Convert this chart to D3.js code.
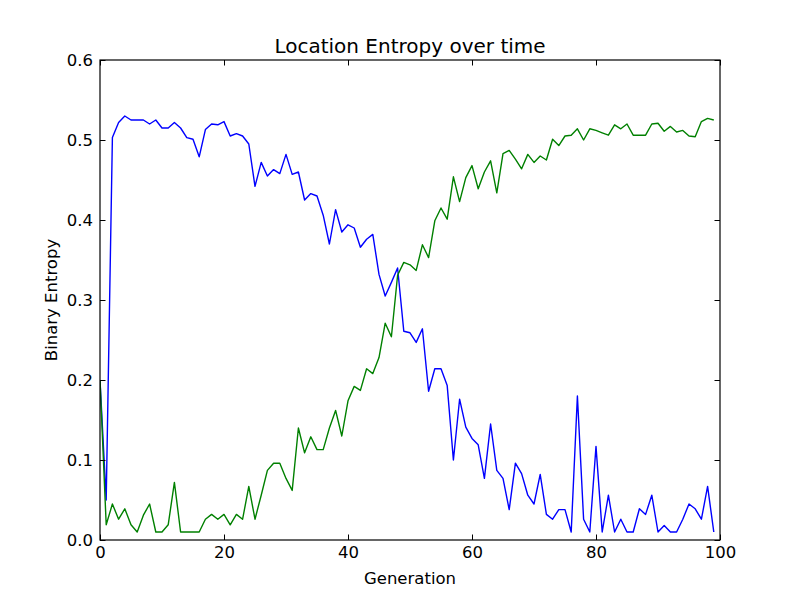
<!DOCTYPE html>
<html>
<head>
<meta charset="utf-8">
<script src="https://cdn.jsdelivr.net/npm/d3@7"></script>
<style>
  body { margin: 0; background: #fff; }
  svg { display: block; font-family: "DejaVu Sans", sans-serif; }
</style>
</head>
<body>
<div id="chart"></div>
<script>
// entropy per generation
var blueVals = [0.200, 0.050, 0.503, 0.522, 0.530, 0.525, 0.525, 0.525, 0.520, 0.525,
  0.515, 0.515, 0.522, 0.515, 0.503, 0.501, 0.479, 0.513, 0.520, 0.519,
  0.523, 0.505, 0.508, 0.505, 0.495, 0.442, 0.472, 0.455, 0.463, 0.458,
  0.482, 0.457, 0.460, 0.425, 0.433, 0.430, 0.406, 0.370, 0.413, 0.385,
  0.394, 0.390, 0.366, 0.376, 0.382, 0.332, 0.305, 0.322, 0.340, 0.261,
  0.259, 0.247, 0.264, 0.186, 0.214, 0.214, 0.193, 0.100, 0.176, 0.141,
  0.127, 0.119, 0.077, 0.145, 0.087, 0.077, 0.038, 0.096, 0.083, 0.056,
  0.045, 0.082, 0.032, 0.026, 0.038, 0.038, 0.010, 0.180, 0.026, 0.010,
  0.117, 0.010, 0.056, 0.010, 0.026, 0.010, 0.010, 0.039, 0.032, 0.056,
  0.010, 0.018, 0.010, 0.010, 0.026, 0.045, 0.039, 0.026, 0.067, 0.010];

var greenVals = [0.200, 0.019, 0.045, 0.026, 0.039, 0.019, 0.010, 0.031, 0.045, 0.010,
  0.010, 0.019, 0.072, 0.010, 0.010, 0.010, 0.010, 0.026, 0.032, 0.026,
  0.032, 0.019, 0.032, 0.026, 0.067, 0.026, 0.056, 0.087, 0.096, 0.096,
  0.077, 0.062, 0.140, 0.109, 0.129, 0.113, 0.113, 0.140, 0.162, 0.130,
  0.174, 0.192, 0.187, 0.214, 0.208, 0.228, 0.271, 0.254, 0.331, 0.347,
  0.344, 0.337, 0.369, 0.353, 0.399, 0.415, 0.401, 0.454, 0.423, 0.453,
  0.468, 0.439, 0.460, 0.474, 0.434, 0.483, 0.487, 0.476, 0.464, 0.482,
  0.472, 0.480, 0.475, 0.501, 0.493, 0.505, 0.506, 0.514, 0.500, 0.514,
  0.512, 0.509, 0.506, 0.519, 0.514, 0.520, 0.506, 0.506, 0.506, 0.520,
  0.521, 0.511, 0.517, 0.510, 0.512, 0.505, 0.504, 0.523, 0.527, 0.525];

var xTicks = [0, 20, 40, 60, 80, 100];
var yTicks = [0.0, 0.1, 0.2, 0.3, 0.4, 0.5, 0.6];

var W = 800, H = 600;
var mLeft = 100, mRight = 720, mTop = 60, mBottom = 540;

var svg = d3.select("#chart").append("svg")
  .attr("width", W).attr("height", H);

var x = d3.scaleLinear().domain([0, 100]).range([mLeft, mRight]);
var y = d3.scaleLinear().domain([0, 0.6]).range([mBottom, mTop]);

// clip lines to the axes box
svg.append("clipPath").attr("id", "box")
  .append("rect").attr("x", mLeft).attr("y", mTop)
  .attr("width", mRight - mLeft).attr("height", mBottom - mTop);

var line = d3.line()
  .x(function(d, i) { return x(i); })
  .y(function(d) { return y(d); });

var series = [{vals: blueVals, col: "#0000ff"}, {vals: greenVals, col: "#008000"}];
svg.append("g").attr("clip-path", "url(#box)")
  .selectAll("path").data(series).enter().append("path")
  .attr("d", function(d) { return line(d.vals); })
  .attr("fill", "none")
  .attr("stroke", function(d) { return d.col; })
  .attr("stroke-width", 1.4)
  .attr("stroke-linejoin", "round");

// axes, ticks inside on all four sides like old matplotlib
var tl = 5.5;
var fmtY = d3.format(".1f");

var gB = svg.append("g").attr("transform", "translate(0," + mBottom + ")")
  .call(d3.axisBottom(x).tickValues(xTicks).tickSizeInner(-tl).tickSizeOuter(0).tickPadding(6));
var gT = svg.append("g").attr("transform", "translate(0," + mTop + ")")
  .call(d3.axisTop(x).tickValues(xTicks).tickSizeInner(-tl).tickSizeOuter(0).tickFormat(""));
var gL = svg.append("g").attr("transform", "translate(" + mLeft + ",0)")
  .call(d3.axisLeft(y).tickValues(yTicks).tickFormat(fmtY).tickSizeInner(-tl).tickSizeOuter(0).tickPadding(7));
var gR = svg.append("g").attr("transform", "translate(" + mRight + ",0)")
  .call(d3.axisRight(y).tickValues(yTicks).tickSizeInner(-tl).tickSizeOuter(0).tickFormat(""));

[gB, gT, gL, gR].forEach(function(g) {
  g.select(".domain").remove();
  g.selectAll("line").attr("stroke", "#000").attr("stroke-width", 1);
  g.selectAll("text").attr("fill", "#000").style("font-size", "16.5px")
    .style("font-family", "'DejaVu Sans', sans-serif");
});

svg.append("rect")
  .attr("x", mLeft).attr("y", mTop)
  .attr("width", mRight - mLeft).attr("height", mBottom - mTop)
  .attr("fill", "none").attr("stroke", "#000").attr("stroke-width", 1.2);

svg.append("text")
  .attr("x", (mLeft + mRight) / 2).attr("y", 53)
  .attr("text-anchor", "middle")
  .style("font-size", "20px")
  .text("Location Entropy over time");

svg.append("text")
  .attr("x", (mLeft + mRight) / 2).attr("y", 584)
  .attr("text-anchor", "middle")
  .style("font-size", "16.5px")
  .text("Generation");

svg.append("text")
  .attr("transform", "translate(57," + ((mTop + mBottom) / 2) + ") rotate(-90)")
  .attr("text-anchor", "middle")
  .style("font-size", "16.5px")
  .text("Binary Entropy");
</script>
</body>
</html>
